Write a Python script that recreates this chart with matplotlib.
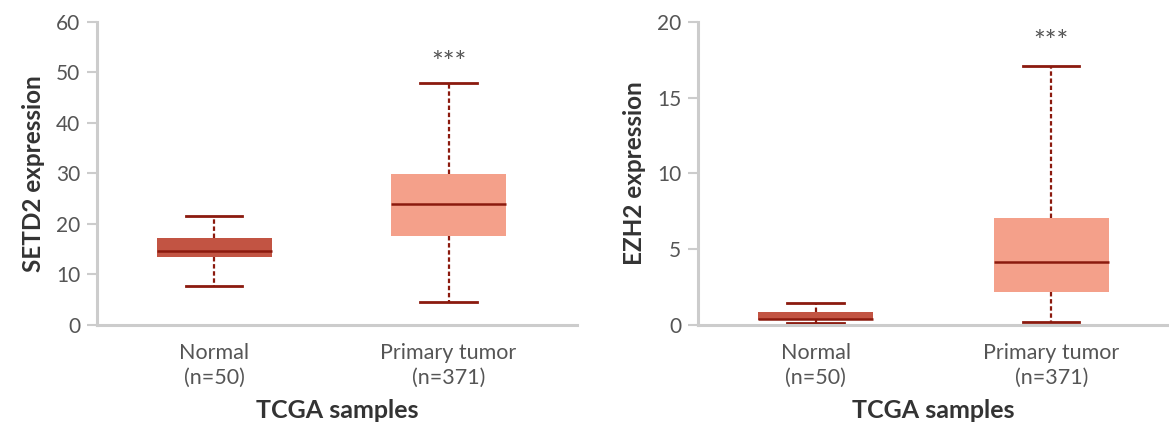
import matplotlib
matplotlib.use("Agg")
import matplotlib.pyplot as plt

plt.rcParams['font.family'] = ['Lato', 'DejaVu Sans']

# box statistics: [whislo, q1, med, q3, whishi]
groups = ['Normal\n(n=50)', 'Primary tumor\n(n=371)']
setd2_normal = [7.7, 13.5, 14.7, 17.2, 21.5]
setd2_tumor = [4.6, 17.7, 23.9, 29.9, 48.0]
ezh2_normal = [0.13, 0.33, 0.40, 0.86, 1.48]
ezh2_tumor = [0.22, 2.16, 4.14, 7.07, 17.1]

ylabels = ['SETD2 expression', 'EZH2 expression']
ylims = [60, 20]
yticks = [[0, 10, 20, 30, 40, 50, 60], [0, 5, 10, 15, 20]]
signif = '***'
star_y = [51.6, 18.6]

box_colors = ['#c25443', '#f4a08a']
dark = '#8b1a0e'
axis_grey = '#cccccc'
text_grey = '#555555'


def stats(vals, label):
    lo, q1, med, q3, hi = vals
    return dict(whislo=lo, q1=q1, med=med, q3=q3, whishi=hi, fliers=[], label=label)


fig = plt.figure(figsize=(11.69, 4.22), dpi=100)
ax1 = fig.add_axes([0.083, 0.23, 0.411, 0.718])
ax2 = fig.add_axes([0.597, 0.23, 0.403, 0.718])

panels = [(ax1, [setd2_normal, setd2_tumor]), (ax2, [ezh2_normal, ezh2_tumor])]
for i, (ax, data) in enumerate(panels):
    bst = [stats(v, g) for v, g in zip(data, groups)]
    bp = ax.bxp(bst, positions=[0, 1], widths=0.49, patch_artist=True,
                showfliers=False,
                boxprops=dict(linewidth=0),
                medianprops=dict(color=dark, linewidth=1.8),
                whiskerprops=dict(color=dark, linewidth=1.6, linestyle=(0, (2, 1.2))),
                capprops=dict(color=dark, linewidth=2.0),
                capwidths=0.24)
    for patch, c in zip(bp['boxes'], box_colors):
        patch.set_facecolor(c)
        patch.set_edgecolor(c)
    # whiskers sit behind the boxes
    for w in bp['whiskers']:
        w.set_zorder(1)
    for b in bp['boxes']:
        b.set_zorder(2)
    for m in bp['medians']:
        m.set_zorder(3)

    ax.set_xlim(-0.5, 1.55 if i == 0 else 1.5)
    ax.set_ylim(0, ylims[i])
    ax.set_yticks(yticks[i])
    ax.spines['top'].set_visible(False)
    ax.spines['right'].set_visible(False)
    for s in ['left', 'bottom']:
        ax.spines[s].set_color(axis_grey)
        ax.spines[s].set_linewidth(2.2)
    ax.tick_params(axis='y', colors=axis_grey, labelcolor=text_grey,
                   labelsize=15, length=7, width=1.5, pad=5)
    ax.tick_params(axis='x', length=0, labelcolor=text_grey, labelsize=15.5, pad=13)
    ax.set_xticklabels(groups, linespacing=1.3)
    ax.set_xlabel('TCGA samples', fontsize=18, fontweight='bold', color='#333333',
                  labelpad=8)
    ax.set_ylabel(ylabels[i], fontsize=17.5, fontweight='bold', color='#333333',
                  labelpad=8)
    ax.text(1, star_y[i], signif, ha='center', va='center',
            fontsize=20, color=text_grey)

fig.savefig('out.png', dpi=100)
